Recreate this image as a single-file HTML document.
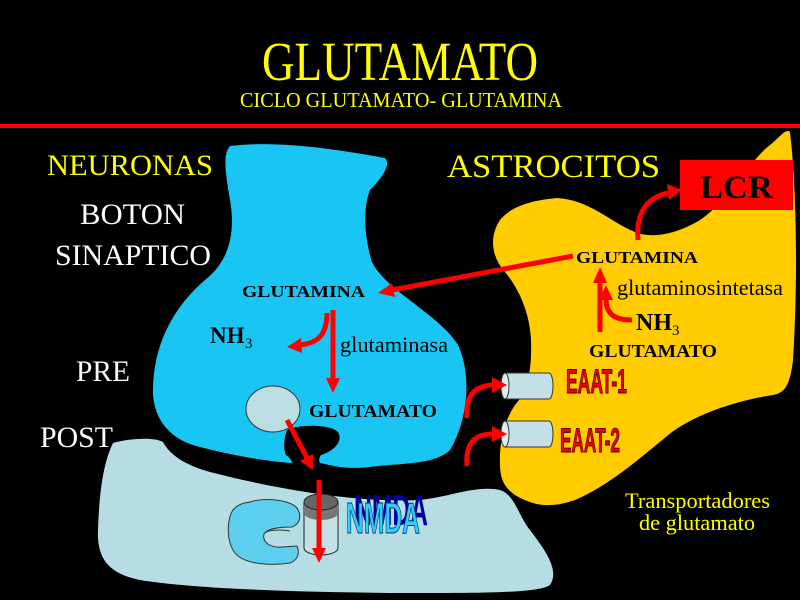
<!DOCTYPE html>
<html><head><meta charset="utf-8"><style>
html,body{margin:0;padding:0;background:#000;}
svg{display:block;}
</style></head><body>
<svg width="800" height="600" viewBox="0 0 800 600" xmlns="http://www.w3.org/2000/svg">
<rect x="0" y="0" width="800" height="600" fill="#000"/>
<!-- red line -->
<rect x="0" y="124" width="800" height="4" fill="#ff0000"/>

<!-- title -->
<g font-family="Liberation Serif, serif" fill="#ffff00">
<text x="262" y="80" font-size="55" textLength="276" lengthAdjust="spacingAndGlyphs">GLUTAMATO</text>
<text x="240" y="107" font-size="21" textLength="322" lengthAdjust="spacingAndGlyphs">CICLO GLUTAMATO- GLUTAMINA</text>
</g>

<!-- post-synaptic shape -->
<path d="M113,443 C130,438 155,437 163,442 C170,455 185,465 210,472 C280,490 360,503 420,500 C450,497 475,485 500,490 C515,495 518,515 530,530 C545,550 560,570 550,585 C540,592 500,593 420,593 C330,593 200,590 140,580 C105,573 97,555 98,530 C99,500 102,465 113,443 Z" fill="#b6dde3"/>

<!-- astrocyte -->
<path d="M790,132 C798,200 797,300 793,360 C790,385 785,393 773,395 C740,400 700,412 672,432 C640,458 610,485 575,500 C555,507 540,506 530,502 C510,495 500,485 500,465 C499,440 505,420 515,405 C528,390 532,370 531,340 C530,315 520,290 505,272 C490,255 490,235 500,220 C512,205 535,200 557,198 C590,200 610,222 635,232 C655,240 680,232 700,220 C730,200 750,160 770,145 C780,137 786,128 790,132 Z" fill="#ffcc00"/>

<!-- neuron -->
<path d="M230,146 C280,140 340,150 385,158 C392,165 380,180 370,190 C362,210 365,240 372,262 C385,290 440,315 458,345 C472,375 468,420 450,450 C435,465 400,463 370,467 C345,470 330,465 320,463 L293,463 C270,462 230,455 200,447 C170,440 155,420 153,395 C152,350 170,310 205,280 C228,262 236,235 230,200 C226,175 222,155 230,146 Z" fill="#19c6f3"/>
<!-- cleft -->
<path d="M287,430 C300,424 330,424 338,432 C344,442 332,452 321,455 C318,459 319,463 322,468 L291,468 C294,464 292,459 286,455 C283,448 284,438 287,430 Z" fill="#000"/>
<!-- vesicle -->
<ellipse cx="273" cy="409" rx="27" ry="23" fill="#bcdde2" stroke="#333" stroke-width="1"/>

<!-- LCR box -->
<rect x="680" y="160" width="113" height="50" fill="#ff0000"/>
<text x="700" y="198" font-family="Liberation Serif, serif" font-weight="bold" font-size="33" textLength="73" lengthAdjust="spacingAndGlyphs" fill="#000">LCR</text>

<!-- receptor C shape -->
<path d="M250,502 C265,497 290,500 297,508 C302,516 300,524 292,527 C280,527 268,528 264,534 C262,542 270,548 282,547 L297,546 C300,553 298,560 290,563 C270,566 248,564 238,556 C226,546 226,520 233,510 C238,504 244,503 250,502 Z" fill="#5ccfee" stroke="#333" stroke-width="1"/>
<path d="M264,534 C266,530 280,529 290,531" fill="none" stroke="#333" stroke-width="1"/>

<!-- NMDA channel -->
<path d="M304,502 L304,548 A17,7 0 0 0 338,548 L338,502 Z" fill="#c3e2e7" stroke="#222" stroke-width="1"/>
<path d="M304,502 L304,513 A17,7 0 0 0 338,513 L338,502 Z" fill="#777"/>
<ellipse cx="321" cy="502" rx="17" ry="8" fill="#666" stroke="#222" stroke-width="1"/>

<!-- NMDA text -->
<g font-family="Liberation Sans, sans-serif" font-weight="bold">
<text x="354" y="525" font-size="44" textLength="74" lengthAdjust="spacingAndGlyphs" fill="#000099">NMDA</text>
<text x="346" y="533" font-size="44" textLength="74" lengthAdjust="spacingAndGlyphs" fill="#33ccff" stroke="#003366" stroke-width="1">NMDA</text>
</g>

<!-- EAAT cylinders -->
<path d="M505,373 L549,373 A4,13 0 0 1 549,399 L505,399 Z" fill="#c3e0e6" stroke="#333" stroke-width="1"/>
<ellipse cx="505" cy="386" rx="4" ry="13" fill="#dcedf0" stroke="#333" stroke-width="1"/>
<path d="M505,421 L549,421 A4,13 0 0 1 549,447 L505,447 Z" fill="#c3e0e6" stroke="#333" stroke-width="1"/>
<ellipse cx="505" cy="434" rx="4" ry="13" fill="#dcedf0" stroke="#333" stroke-width="1"/>

<!-- EAAT text -->
<g font-family="Liberation Sans, sans-serif" font-weight="bold" fill="#ee0000" stroke="#550000" stroke-width="1">
<text x="566" y="393" font-size="34" textLength="61" lengthAdjust="spacingAndGlyphs">EAAT-1</text>
<text x="560" y="452" font-size="34" textLength="60" lengthAdjust="spacingAndGlyphs">EAAT-2</text>
</g>

<!-- arrows -->
<g stroke="#ff0000" stroke-width="5" fill="none">
<line x1="573" y1="256" x2="392" y2="290"/>
<line x1="333" y1="310" x2="333" y2="380"/>
<path d="M327,313 C327,335 318,343 300,345"/>
<line x1="287" y1="420" x2="307" y2="458"/>
<line x1="319" y1="480" x2="319" y2="550"/>
<path d="M638,240 C636,215 645,198 668,193"/>
<line x1="600" y1="332" x2="600" y2="282"/>
<path d="M632,320 C612,320 606,312 606,299"/>
<path d="M467,418 C465,395 475,386 493,385"/>
<path d="M467,466 C465,443 475,434 493,434"/>
</g>
<g fill="#ff0000">
<polygon points="378,293 395,297 392,283"/>
<polygon points="326,378 340,378 333,393"/>
<polygon points="287,347 301,338 302,353"/>
<polygon points="313,470 313,454 300,461"/>
<polygon points="312,548 326,548 319,563"/>
<polygon points="682,190 667,184 669,200"/>
<polygon points="593,283 607,283 600,267"/>
<polygon points="606,285 599,300 613,300"/>
<polygon points="507,385 492,377 492,393"/>
<polygon points="507,434 492,426 492,442"/>
</g>

<!-- labels -->
<g font-family="Liberation Serif, serif">
<text x="47" y="175" font-size="30" fill="#ffff00" textLength="166" lengthAdjust="spacingAndGlyphs">NEURONAS</text>
<text x="80" y="224" font-size="30" fill="#ffffff" textLength="105" lengthAdjust="spacingAndGlyphs">BOTON</text>
<text x="55" y="265" font-size="30" fill="#ffffff" textLength="156" lengthAdjust="spacingAndGlyphs">SINAPTICO</text>
<text x="76" y="381" font-size="30" fill="#ffffff" textLength="54" lengthAdjust="spacingAndGlyphs">PRE</text>
<text x="40" y="447" font-size="30" fill="#ffffff" textLength="73" lengthAdjust="spacingAndGlyphs">POST</text>
<text x="447" y="177" font-size="33" fill="#ffff00" textLength="213" lengthAdjust="spacingAndGlyphs">ASTROCITOS</text>

<text x="576" y="263" font-size="17" font-weight="bold" fill="#000" textLength="122" lengthAdjust="spacingAndGlyphs">GLUTAMINA</text>
<text x="617" y="295" font-size="22" fill="#000" textLength="166" lengthAdjust="spacingAndGlyphs">glutaminosintetasa</text>
<text x="636" y="330" font-size="24" font-weight="bold" fill="#000">NH</text>
<text x="672" y="335" font-size="15" fill="#000">3</text>
<text x="589" y="357" font-size="18" font-weight="bold" fill="#000" textLength="128" lengthAdjust="spacingAndGlyphs">GLUTAMATO</text>

<text x="242" y="297" font-size="17" font-weight="bold" fill="#000" textLength="123" lengthAdjust="spacingAndGlyphs">GLUTAMINA</text>
<text x="210" y="343" font-size="23" font-weight="bold" fill="#000">NH</text>
<text x="245" y="348" font-size="15" fill="#000">3</text>
<text x="340" y="352" font-size="22" fill="#000" textLength="108" lengthAdjust="spacingAndGlyphs">glutaminasa</text>
<text x="309" y="417" font-size="18" font-weight="bold" fill="#000" textLength="128" lengthAdjust="spacingAndGlyphs">GLUTAMATO</text>

<text x="625" y="508" font-size="22" fill="#ffff00" textLength="145" lengthAdjust="spacingAndGlyphs">Transportadores</text>
<text x="639" y="530" font-size="22" fill="#ffff00" textLength="116" lengthAdjust="spacingAndGlyphs">de glutamato</text>
</g>
</svg>
</body></html>
